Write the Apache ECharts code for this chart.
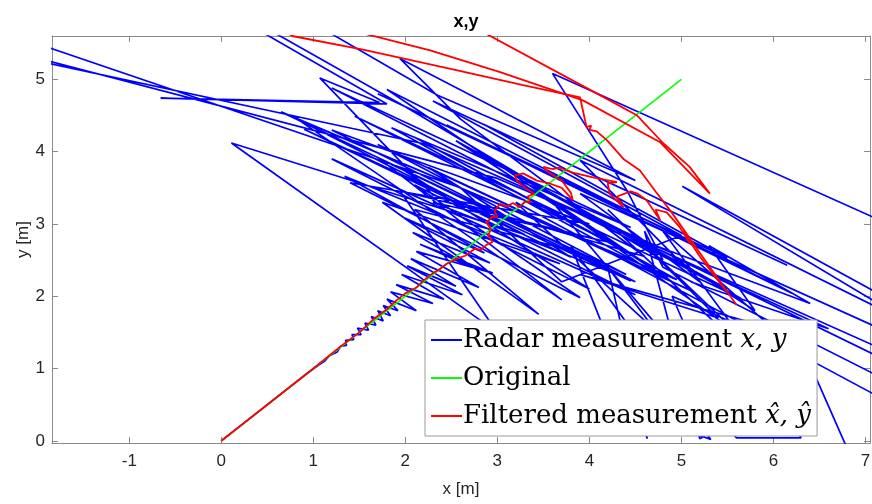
<!DOCTYPE html>
<html><head><meta charset="utf-8">
<script src="https://cdn.jsdelivr.net/npm/echarts@6/dist/echarts.min.js"></script>
<style>html,body{margin:0;padding:0;background:#fff}#c{width:872px;height:504px}</style>
</head><body><div id="c"></div>
<script>
// ---- data (x, y in metres) ----
const xRange = [-1.84, 7.05];
const yRange = [-0.03, 5.6];
const originalPts = [[0,0],[5,5]];
const radarPts = [
[0,0],[0.3,0.3],[0.6,0.6],[0.9,0.9],[1.05,1.04],[1.12,1.1],[1.18,1.18],[1.26,1.23],[1.3,1.31],[1.36,1.32],[1.35,1.39],[1.44,1.4],[1.42,1.47],[1.52,1.47],[1.48,1.56],[1.6,1.53],[1.56,1.63],[1.68,1.6],[1.63,1.72],[1.76,1.66],[1.7,1.8],[1.84,1.73],[1.76,1.87],[1.92,1.8],
[1.8,1.96],[2.12,1.8],[1.84,2.06],[2.3,1.9],[1.9,2.16],[2.42,1.96],[1.96,2.3],[2.62,2.02],[2.02,2.42],[2.55,2.14],[2.06,2.52],[2.8,2.12],[2.12,2.62],[2.95,2.32],[2.16,2.72],[2.72,2.4],[2.08,2.88],[2.92,2.46],[2.0,3.08],[2.86,2.6],
[1.34,3.66],[3.68,2.45],[1.75,3.3],[3.45,1.75],[2.1,3.2],[3.9,2.6],[1.72,3.9],[3.7,1.95],[0.85,4.43],[3.3,2.85],[0.11,4.12],[3.0,1.5],[1.94,3.46],[4.2,2.75],[2.3,3.3],[4.5,2.2],[1.2,4.3],[4.0,3.0],
[1.4,3.57],[3.9,1.98],[2.1,3.54],[4.5,2.02],[1.2,3.9],[4.0,2.1],[1.95,3.77],[4.45,2.21],[0.9,4.31],[3.8,2.54],[2.25,3.78],[5.15,2.05],[1.7,4.1],[4.4,2.3],[0.65,4.55],[4.95,2.23],[2.1,4.2],[4.2,2.76],[1.45,4.49],[5.65,1.97],[2.7,4.03],[4.9,2.2],[1.85,4.33],[4.45,2.95],[1.2,4.88],[5.5,2.1],[2.55,4.15],[4.85,2.25],[1.8,4.86],[6.2,2.04],[2.45,4.37],[4.45,3.17],[1.7,4.8],[5.5,2.53],[2.85,4.38],[6.15,2.43],[2.3,4.7],[5.0,2.84],
[3.7,2.2],[2.6,3.5],[-2.5,5.71],[-2.5,5.46],[3.0,3.63],[4.9,2.6],[2.2,4.11],[-2.5,5.39],[-2.5,6.2],[0.38,6.2],[0.38,5.7],[1.8,4.66],[-0.66,4.74],[1.72,4.68],[1.07,5.02],[2.3,3.4],[4.6,2.55],[2.6,4.45],[1.94,5.29],[4.5,3.6],[2.35,4.78],[1.21,5.62],[1.1,5.9],[0.5,5.9],[0.5,5.7],[2.0,4.62],[4.8,2.5],
[4.41,3.46],[3.6,5.08],[7.6,2.8],[7.6,1.72],[5.01,3.52],[7.6,1.55],[3.9,3.88],[5.2,2.2],[3.9,3.42],[7.6,1.3],[7.6,1.03],[4.73,2.66],[3.3,3.6],[4.33,2.91],[7.6,0.88],[7.6,0.6],[4.8,2.4],
[4.6,2.9],[5.2,0.03],[5.3,0.1],[5.15,0.1],[5.32,0.02],[3.8,2.7],[4.63,0.03],[4.2,2.4],[5.6,0.04],[6.3,0.04],[6.28,0.09],[5.55,0.09],[4.9,2.0],[6.35,1.2],[6.8,-0.1],[7.6,-0.1],
[7.6,0.3],[3.2,3.3],[5.0,1.2],[3.6,3.3],[5.6,1.5],[4.2,3.2],[5.4,1.7],[3.9,2.3],[6.0,1.55],[4.8,2.9],[5.9,1.0],[4.3,2.9],[6.4,1.9],[5.3,2.7],[5.8,1.8],[4.9,2.55],[6.6,1.55],[5.1,2.2]
];
const filteredMain = [
[0,0],[0.5,0.5],[1.0,1.0],[1.3,1.31],[1.5,1.5],[1.67,1.7],[1.8,1.82],[1.9,1.94],[2.0,2.04],[2.12,2.12],[2.2,2.22],[2.3,2.32],[2.38,2.38],[2.45,2.45],[2.56,2.52],[2.65,2.56],[2.76,2.66],[2.82,2.64],[2.88,2.71],[2.95,2.75],[2.9,2.84],[2.93,2.93],[2.88,3.02],[2.95,3.1],[3.0,3.09],[2.97,3.18],[3.03,3.28],[3.1,3.24],[3.17,3.29],[3.24,3.23],[3.3,3.31],[3.36,3.3],[3.33,3.38],[3.4,3.42],[3.3,3.5],[3.21,3.6],[3.19,3.67],[3.28,3.7],[3.43,3.6],[3.57,3.56],[3.7,3.5],[3.82,3.33],[3.8,3.43],[3.7,3.6],[3.55,3.72],[3.5,3.79],[3.6,3.76],[3.68,3.78],[3.75,3.74],[3.82,3.71],[4.05,3.64],[4.3,3.58],[4.2,3.56],[4.22,3.42],[4.37,3.23],[4.3,3.38],[4.45,3.45],[4.52,3.42],[4.62,3.33],[4.77,3.05],[4.72,3.2],[4.84,3.16],[4.98,2.96],[5.09,2.73],[5.02,2.9],[5.2,2.55],[5.5,2.05]
];
const filteredUpperA = [[0.6,5.75],[0.77,5.6],[1.54,5.41],[2.48,5.15],[3.28,4.92],[3.9,4.75],[3.95,4.45],[3.97,4.34],[4.02,4.36],[4.0,4.3],[4.08,4.28],[4.19,4.16],[4.37,3.9],[4.55,3.74],[4.72,3.45],[4.9,3.15],[5.2,2.6],[5.45,2.15],[5.6,1.88]];
const filteredUpperB = [[1.5,5.65],[2.27,5.4],[3.03,5.1],[3.93,4.71],[4.77,4.13],[5.31,3.42],[5.09,3.79],[4.8,4.12],[4.52,4.5],[4.22,4.71],[2.85,5.65]];

const NAME_R = 'Radar measurement', NAME_O = 'Original', NAME_F = 'Filtered measurement';
const chart = echarts.init(document.getElementById('c'), null, {renderer:'canvas'});
const axisCol = '#8a8a8a', txtCol = '#262626';
function xa(pos, show){return {type:'value', position:pos, min:xRange[0], max:xRange[1], splitNumber:9, minInterval:1, maxInterval:1,
  axisLine:{show:true, onZero:false, lineStyle:{color:axisCol, width:1}}, axisTick:{show:true, inside:true, length:6, lineStyle:{color:axisCol}},
  splitLine:{show:false}, axisLabel:{show:show, showMinLabel:false, showMaxLabel:false, color:txtCol, fontSize:17, fontFamily:'Liberation Sans', margin:10},
  name: show?'x [m]':'', nameLocation:'middle', nameGap:38, nameMoveOverlap:false, nameTextStyle:{color:txtCol, fontSize:17, fontFamily:'Liberation Sans'}};}
function ya(pos, show){return {type:'value', position:pos, min:yRange[0], max:yRange[1], splitNumber:6, minInterval:1, maxInterval:1,
  axisLine:{show:true, onZero:false, lineStyle:{color:axisCol, width:1}}, axisTick:{show:true, inside:true, length:6, lineStyle:{color:axisCol}},
  splitLine:{show:false}, axisLabel:{show:show, showMinLabel:false, showMaxLabel:false, color:txtCol, fontSize:17, fontFamily:'Liberation Sans', margin:7},
  name: show?'y [m]':'', nameLocation:'middle', nameGap:20, nameMoveOverlap:false, nameTextStyle:{color:txtCol, fontSize:17, fontFamily:'Liberation Sans'}};}
function ser(name, data, color, w, z){return {name:name, type:'line', data:data, showSymbol:false, symbol:'none', clip:true, z:z,
  lineStyle:{color:color, width:w}, itemStyle:{color:color}, animation:false, silent:true};}
chart.setOption({
  animation:false,
  title:{text:'x,y', left:461, top:8, textAlign:'center', textStyle:{fontSize:18, fontWeight:'bold', color:'#000', fontFamily:'Liberation Sans'}},
  grid:{left:52, right:2, top:36, bottom:61, containLabel:false, outerBoundsMode:'none'},
  xAxis:[xa('bottom', true), xa('top', false)],
  yAxis:[ya('left', true), ya('right', false)],
  legend:{orient:'vertical', left:425, top:320, data:[NAME_R, NAME_O, NAME_F], backgroundColor:'#fff', borderColor:'#9a9a9a', borderWidth:1,
    padding:[1,6,1,6], itemGap:0, itemWidth:31, itemHeight:2, icon:'rect', selectedMode:false,
    textStyle:{fontSize:26, fontFamily:'DejaVu Serif', color:'#000', lineHeight:38, padding:[0,0,0,-4],
      rich:{m:{fontSize:26, fontFamily:'DejaVu Serif', fontStyle:'italic', color:'#000', lineHeight:38}}},
    formatter:function(n){ if(n===NAME_R) return 'Radar measurement {m|x, y}'; if(n===NAME_F) return 'Filtered measurement {m|x\u0302, y\u0302}'; return n; }},
  series:[
    ser(NAME_R, radarPts, '#0000ff', 1.7, 2),
    ser(NAME_O, originalPts, '#00ff00', 1.6, 3),
    ser(NAME_F, filteredMain, '#ff0000', 1.8, 4),
    ser(NAME_F, filteredUpperA, '#ff0000', 1.8, 4),
    ser(NAME_F, filteredUpperB, '#ff0000', 1.8, 4)
  ]
});
</script></body></html>
